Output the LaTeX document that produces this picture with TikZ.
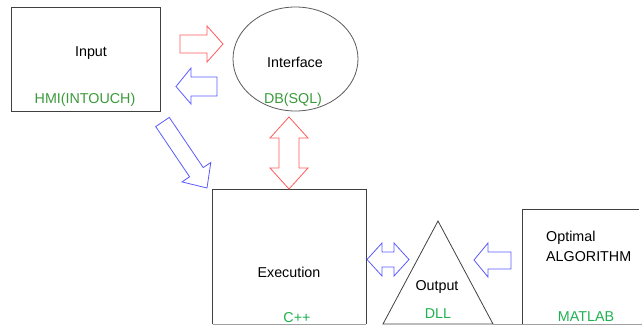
\documentclass[tikz,border=0pt]{standalone}
\usepackage{fontspec}
\setmainfont{Liberation Sans}
\usetikzlibrary{shapes.geometric}
\definecolor{edgegray}{HTML}{404040}
\definecolor{ellgray}{HTML}{5A5A5A}
\definecolor{lightline}{HTML}{A0A0A0}
\definecolor{darkgreen}{HTML}{3A9A3A}
\definecolor{brightgreen}{HTML}{20B050}
\definecolor{arrowred}{HTML}{FF5A5A}
\definecolor{arrowblue}{HTML}{5A5AFF}
\tikzset{
  box/.style={draw=edgegray, line width=0.8pt},
  lbl/.style={inner sep=0pt, font=\fontsize{14.3}{17}\selectfont, text=black},
  glbl/.style={lbl, text=darkgreen},
  bglbl/.style={lbl, text=brightgreen},
  redarrow/.style={draw=arrowred, line width=0.8pt, line join=miter},
  bluearrow/.style={draw=arrowblue, line width=0.8pt, line join=miter}
}
\begin{document}
\begin{tikzpicture}[x=1pt,y=-1pt]
\useasboundingbox (0,0) rectangle (642,325);
% Input box
\node[box, rectangle, minimum width=149pt, minimum height=104pt, inner sep=0pt] (input) at (85.5,59) {};
\node[lbl] (inputtxt) at (91,53) {Input};
\node[glbl] (hmi) at (85,100) {HMI(INTOUCH)};
% Interface ellipse
\node[box, draw=ellgray, ellipse, minimum width=125pt, minimum height=104pt, inner sep=0pt] (iface) at (295.5,59) {};
\node[lbl] (ifacetxt) at (295,62) {Interface};
\node[glbl] (db) at (293,100) {DB(SQL)};
% Execution box
\draw[box] (212.5,324) |- (366,189) -- (366,324);
\draw[lightline, line width=0.8pt] (212.5,324) -- (366,324);
\node[lbl] (exec) at (289,272) {Execution};
\node[bglbl] (cpp) at (297,318) {C++};
% Output triangle
\coordinate (tapex) at (438,221);
\coordinate (tleft) at (383,324);
\coordinate (tright) at (493,324);
\draw[box] (tleft) -- (tapex) -- (tright) -- cycle;
\node[lbl] (outtxt) at (437,287) {Output};
\node[bglbl] (dll) at (438,314) {DLL};
% Optimal algorithm box
\draw[box] (522,325) -- (522,209) -- (639,209);
\draw[lightline, line width=0.8pt] (493,324) -- (642,324);
\node[lbl, anchor=west] (opt) at (546,238) {Optimal};
\node[lbl, anchor=west] (algo) at (546,257) {ALGORITHM};
\node[bglbl] (matlab) at (586,317) {MATLAB};
% Block arrows
\draw[redarrow] (180,35) -- (207,35) -- (207,26) -- (223,44) -- (207,62) -- (207,53) -- (180,53) -- cycle;
\draw[bluearrow] (217,77) -- (191,77) -- (191,68) -- (176,86.5) -- (191,104) -- (191,96) -- (217,96) -- cycle;
\draw[redarrow] (289,117) -- (308,138) -- (299,138) -- (299,168) -- (308,168) -- (289,189) -- (270,168) -- (279,168) -- (279,138) -- (270,138) -- cycle;
\draw[bluearrow] (169.3,117.4) -- (203.2,167.6) -- (210.8,162.5) -- (207,188) -- (182,181.9) -- (189.6,176.8) -- (155.7,126.6) -- cycle;
\draw[bluearrow] (367,259.5) -- (382,243) -- (382,252) -- (394,252) -- (394,243) -- (409,259.5) -- (394,276) -- (394,267) -- (382,267) -- (382,276) -- cycle;
\draw[bluearrow] (511,252) -- (488,252) -- (488,243) -- (474,260) -- (488,277) -- (488,269) -- (511,269) -- cycle;
\end{tikzpicture}
\end{document}
